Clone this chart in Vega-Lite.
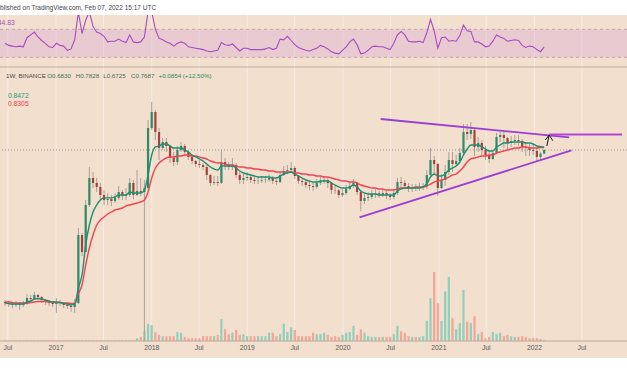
{
"$schema":"https://vega.github.io/schema/vega-lite/v6.json",
"width":627,"height":343,
"autosize":{"type":"none"},
"padding":{"left":0,"right":0,"top":15,"bottom":18},
"background":"#ffffff",
"config":{"view":{"fill":"#f2dfce","stroke":null},"font":"Liberation Sans"},
"datasets":{
"w":[
{"t":"2016-06-20","o":0.00518,"h":0.00553,"l":0.00454,"c":0.00501,"v":1,"g":0.00501,"r":0.00518,"s":50},
{"t":"2016-07-04","o":0.00501,"h":0.00535,"l":0.0044,"c":0.00485,"v":1,"g":0.00493,"r":0.00518,"s":47},
{"t":"2016-07-18","o":0.00485,"h":0.00518,"l":0.00425,"c":0.00469,"v":1,"g":0.00485,"r":0.0051,"s":46},
{"t":"2016-08-01","o":0.00469,"h":0.00535,"l":0.0044,"c":0.00485,"v":1,"g":0.00485,"r":0.00501,"s":45},
{"t":"2016-08-15","o":0.00485,"h":0.00518,"l":0.00398,"c":0.00469,"v":1,"g":0.00485,"r":0.00501,"s":46},
{"t":"2016-08-29","o":0.00469,"h":0.00535,"l":0.0044,"c":0.00485,"v":1,"g":0.00485,"r":0.00501,"s":45},
{"t":"2016-09-12","o":0.00485,"h":0.00674,"l":0.00469,"c":0.00591,"v":1,"g":0.00518,"r":0.00501,"s":58},
{"t":"2016-09-26","o":0.00591,"h":0.00652,"l":0.00518,"c":0.00572,"v":1,"g":0.00535,"r":0.0051,"s":62},
{"t":"2016-10-10","o":0.00572,"h":0.0072,"l":0.00553,"c":0.00652,"v":1,"g":0.00572,"r":0.00518,"s":66},
{"t":"2016-10-24","o":0.00652,"h":0.00674,"l":0.00553,"c":0.00611,"v":1,"g":0.00582,"r":0.00527,"s":59},
{"t":"2016-11-07","o":0.00611,"h":0.00631,"l":0.00501,"c":0.00553,"v":1,"g":0.00572,"r":0.00527,"s":54},
{"t":"2016-11-21","o":0.00553,"h":0.00572,"l":0.00469,"c":0.00518,"v":1,"g":0.00553,"r":0.00527,"s":50},
{"t":"2016-12-05","o":0.00518,"h":0.00553,"l":0.00454,"c":0.00501,"v":1,"g":0.00535,"r":0.00518,"s":45},
{"t":"2016-12-19","o":0.00501,"h":0.00535,"l":0.0044,"c":0.00485,"v":1,"g":0.00518,"r":0.00518,"s":44},
{"t":"2017-01-02","o":0.00485,"h":0.00591,"l":0.00361,"c":0.00518,"v":1,"g":0.00518,"r":0.0051,"s":50},
{"t":"2017-01-16","o":0.00518,"h":0.00553,"l":0.00454,"c":0.00501,"v":1,"g":0.0051,"r":0.0051,"s":47},
{"t":"2017-01-30","o":0.00501,"h":0.00518,"l":0.00425,"c":0.00469,"v":1,"g":0.00493,"r":0.00501,"s":46},
{"t":"2017-02-13","o":0.00469,"h":0.00501,"l":0.00412,"c":0.00454,"v":1,"g":0.00485,"r":0.00501,"s":40},
{"t":"2017-02-27","o":0.00454,"h":0.00501,"l":0.00373,"c":0.0044,"v":1,"g":0.00469,"r":0.00493,"s":42},
{"t":"2017-03-13","o":0.0044,"h":0.00572,"l":0.00361,"c":0.00501,"v":1,"g":0.00485,"r":0.00493,"s":55},
{"t":"2017-03-27","o":0.00501,"h":0.0591,"l":0.00485,"c":0.0469,"v":1,"g":0.00821,"r":0.00674,"s":95},
{"t":"2017-04-10","o":0.0469,"h":0.0501,"l":0.0235,"c":0.0268,"v":1,"g":0.0126,"r":0.00906,"s":64},
{"t":"2017-04-24","o":0.0268,"h":0.148,"l":0.0268,"c":0.1259,"v":1,"g":0.0338,"r":0.0175,"s":83},
{"t":"2017-05-08","o":0.1259,"h":0.44,"l":0.1179,"c":0.306,"v":1,"g":0.0652,"r":0.0306,"s":95},
{"t":"2017-05-22","o":0.306,"h":0.373,"l":0.22,"c":0.26,"v":1,"g":0.1,"r":0.0469,"s":74},
{"t":"2017-06-05","o":0.26,"h":0.306,"l":0.193,"c":0.228,"v":1,"g":0.1259,"r":0.0652,"s":66},
{"t":"2017-06-19","o":0.228,"h":0.26,"l":0.148,"c":0.175,"v":1,"g":0.148,"r":0.0769,"s":64},
{"t":"2017-07-03","o":0.175,"h":0.206,"l":0.1259,"c":0.148,"v":1,"g":0.159,"r":0.0849,"s":60},
{"t":"2017-07-17","o":0.148,"h":0.187,"l":0.1259,"c":0.153,"v":1,"g":0.159,"r":0.0937,"s":52},
{"t":"2017-07-31","o":0.153,"h":0.175,"l":0.1218,"c":0.1436,"v":1,"g":0.159,"r":0.1,"s":53},
{"t":"2017-08-14","o":0.1436,"h":0.187,"l":0.1345,"c":0.159,"v":1,"g":0.164,"r":0.1068,"s":53},
{"t":"2017-08-28","o":0.159,"h":0.235,"l":0.148,"c":0.193,"v":1,"g":0.175,"r":0.1104,"s":56},
{"t":"2017-09-11","o":0.193,"h":0.206,"l":0.148,"c":0.169,"v":1,"g":0.175,"r":0.1141,"s":53},
{"t":"2017-09-25","o":0.169,"h":0.22,"l":0.148,"c":0.175,"v":1,"g":0.175,"r":0.1218,"s":51},
{"t":"2017-10-09","o":0.175,"h":0.306,"l":0.164,"c":0.26,"v":1,"g":0.193,"r":0.1259,"s":62},
{"t":"2017-10-23","o":0.26,"h":0.287,"l":0.153,"c":0.175,"v":1,"g":0.187,"r":0.1301,"s":52},
{"t":"2017-11-06","o":0.175,"h":0.398,"l":0.169,"c":0.2,"v":4,"g":0.187,"r":0.1345,"s":51},
{"t":"2017-11-20","o":0.2,"h":0.306,"l":0.169,"c":0.193,"v":6,"g":0.187,"r":0.139,"s":52},
{"t":"2017-12-04","o":0.193,"h":0.287,"l":0.00145,"c":0.22,"v":14,"g":0.206,"r":0.148,"s":59},
{"t":"2017-12-18","o":0.22,"h":2.062,"l":0.206,"c":1.585,"v":25,"g":0.338,"r":0.193,"s":95},
{"t":"2018-01-01","o":1.585,"h":3.728,"l":1.484,"c":2.683,"v":23,"g":0.652,"r":0.306,"s":95},
{"t":"2018-01-15","o":2.683,"h":2.865,"l":1.068,"c":1.39,"v":13,"g":0.849,"r":0.425,"s":70},
{"t":"2018-01-29","o":1.39,"h":1.585,"l":0.553,"c":0.821,"v":9,"g":0.877,"r":0.501,"s":57},
{"t":"2018-02-12","o":0.821,"h":1.141,"l":0.769,"c":1.0,"v":7,"g":0.937,"r":0.553,"s":55},
{"t":"2018-02-26","o":1.0,"h":1.141,"l":0.72,"c":0.877,"v":7,"g":0.937,"r":0.591,"s":52},
{"t":"2018-03-12","o":0.877,"h":0.906,"l":0.501,"c":0.591,"v":7,"g":0.877,"r":0.611,"s":50},
{"t":"2018-03-26","o":0.591,"h":0.72,"l":0.454,"c":0.518,"v":7,"g":0.821,"r":0.611,"s":46},
{"t":"2018-04-09","o":0.518,"h":0.877,"l":0.469,"c":0.769,"v":13,"g":0.821,"r":0.631,"s":50},
{"t":"2018-04-23","o":0.769,"h":1.0,"l":0.72,"c":0.877,"v":12,"g":0.821,"r":0.631,"s":52},
{"t":"2018-05-07","o":0.877,"h":0.937,"l":0.631,"c":0.72,"v":6,"g":0.769,"r":0.652,"s":50},
{"t":"2018-05-21","o":0.72,"h":0.769,"l":0.553,"c":0.611,"v":4,"g":0.72,"r":0.652,"s":45},
{"t":"2018-06-04","o":0.611,"h":0.652,"l":0.485,"c":0.535,"v":4,"g":0.652,"r":0.631,"s":44},
{"t":"2018-06-18","o":0.535,"h":0.553,"l":0.44,"c":0.485,"v":4,"g":0.611,"r":0.631,"s":43},
{"t":"2018-07-02","o":0.485,"h":0.553,"l":0.425,"c":0.469,"v":4,"g":0.572,"r":0.611,"s":42},
{"t":"2018-07-16","o":0.469,"h":0.501,"l":0.398,"c":0.44,"v":7,"g":0.535,"r":0.591,"s":41},
{"t":"2018-07-30","o":0.44,"h":0.469,"l":0.287,"c":0.338,"v":7,"g":0.485,"r":0.572,"s":39},
{"t":"2018-08-13","o":0.338,"h":0.349,"l":0.235,"c":0.26,"v":7,"g":0.44,"r":0.535,"s":38},
{"t":"2018-08-27","o":0.26,"h":0.327,"l":0.243,"c":0.268,"v":7,"g":0.412,"r":0.518,"s":39},
{"t":"2018-09-10","o":0.268,"h":0.327,"l":0.235,"c":0.26,"v":9,"g":0.398,"r":0.501,"s":40},
{"t":"2018-09-24","o":0.26,"h":0.769,"l":0.251,"c":0.518,"v":32,"g":0.454,"r":0.501,"s":51},
{"t":"2018-10-08","o":0.518,"h":0.591,"l":0.398,"c":0.469,"v":17,"g":0.454,"r":0.485,"s":48},
{"t":"2018-10-22","o":0.469,"h":0.518,"l":0.398,"c":0.44,"v":10,"g":0.454,"r":0.469,"s":47},
{"t":"2018-11-05","o":0.44,"h":0.591,"l":0.398,"c":0.469,"v":12,"g":0.454,"r":0.469,"s":49},
{"t":"2018-11-19","o":0.469,"h":0.501,"l":0.306,"c":0.338,"v":16,"g":0.425,"r":0.454,"s":44},
{"t":"2018-12-03","o":0.338,"h":0.373,"l":0.251,"c":0.287,"v":9,"g":0.385,"r":0.44,"s":39},
{"t":"2018-12-17","o":0.287,"h":0.349,"l":0.251,"c":0.306,"v":10,"g":0.361,"r":0.44,"s":43},
{"t":"2018-12-31","o":0.306,"h":0.373,"l":0.277,"c":0.316,"v":7,"g":0.349,"r":0.425,"s":43},
{"t":"2019-01-14","o":0.316,"h":0.338,"l":0.26,"c":0.287,"v":7,"g":0.338,"r":0.425,"s":41},
{"t":"2019-01-28","o":0.287,"h":0.316,"l":0.251,"c":0.277,"v":7,"g":0.327,"r":0.412,"s":41},
{"t":"2019-02-11","o":0.277,"h":0.316,"l":0.251,"c":0.28,"v":7,"g":0.316,"r":0.412,"s":41},
{"t":"2019-02-25","o":0.28,"h":0.327,"l":0.26,"c":0.287,"v":7,"g":0.316,"r":0.398,"s":41},
{"t":"2019-03-11","o":0.287,"h":0.327,"l":0.26,"c":0.29,"v":7,"g":0.316,"r":0.398,"s":42},
{"t":"2019-03-25","o":0.29,"h":0.349,"l":0.268,"c":0.306,"v":12,"g":0.316,"r":0.385,"s":44},
{"t":"2019-04-08","o":0.306,"h":0.327,"l":0.251,"c":0.277,"v":12,"g":0.306,"r":0.385,"s":41},
{"t":"2019-04-22","o":0.277,"h":0.316,"l":0.243,"c":0.268,"v":7,"g":0.306,"r":0.373,"s":43},
{"t":"2019-05-06","o":0.268,"h":0.373,"l":0.26,"c":0.338,"v":10,"g":0.327,"r":0.373,"s":56},
{"t":"2019-05-20","o":0.338,"h":0.454,"l":0.327,"c":0.385,"v":25,"g":0.349,"r":0.373,"s":55},
{"t":"2019-06-03","o":0.385,"h":0.469,"l":0.349,"c":0.398,"v":13,"g":0.361,"r":0.373,"s":60},
{"t":"2019-06-17","o":0.398,"h":0.518,"l":0.361,"c":0.425,"v":20,"g":0.373,"r":0.373,"s":54},
{"t":"2019-07-01","o":0.425,"h":0.454,"l":0.296,"c":0.327,"v":16,"g":0.349,"r":0.361,"s":48},
{"t":"2019-07-15","o":0.327,"h":0.338,"l":0.251,"c":0.277,"v":7,"g":0.327,"r":0.361,"s":44},
{"t":"2019-07-29","o":0.277,"h":0.306,"l":0.235,"c":0.268,"v":7,"g":0.306,"r":0.349,"s":42},
{"t":"2019-08-12","o":0.268,"h":0.287,"l":0.22,"c":0.243,"v":7,"g":0.287,"r":0.349,"s":40},
{"t":"2019-08-26","o":0.243,"h":0.277,"l":0.206,"c":0.235,"v":7,"g":0.277,"r":0.338,"s":39},
{"t":"2019-09-09","o":0.235,"h":0.268,"l":0.2,"c":0.228,"v":12,"g":0.268,"r":0.338,"s":41},
{"t":"2019-09-23","o":0.228,"h":0.296,"l":0.213,"c":0.26,"v":10,"g":0.268,"r":0.327,"s":43},
{"t":"2019-10-07","o":0.26,"h":0.316,"l":0.243,"c":0.277,"v":10,"g":0.277,"r":0.327,"s":47},
{"t":"2019-10-21","o":0.277,"h":0.327,"l":0.251,"c":0.287,"v":12,"g":0.277,"r":0.316,"s":45},
{"t":"2019-11-04","o":0.287,"h":0.306,"l":0.22,"c":0.26,"v":9,"g":0.277,"r":0.316,"s":42},
{"t":"2019-11-18","o":0.26,"h":0.268,"l":0.181,"c":0.206,"v":6,"g":0.26,"r":0.306,"s":38},
{"t":"2019-12-02","o":0.206,"h":0.235,"l":0.181,"c":0.204,"v":7,"g":0.243,"r":0.296,"s":36},
{"t":"2019-12-16","o":0.204,"h":0.213,"l":0.159,"c":0.175,"v":6,"g":0.228,"r":0.287,"s":35},
{"t":"2019-12-30","o":0.175,"h":0.213,"l":0.164,"c":0.187,"v":9,"g":0.22,"r":0.277,"s":40},
{"t":"2020-01-13","o":0.187,"h":0.243,"l":0.175,"c":0.213,"v":12,"g":0.22,"r":0.277,"s":45},
{"t":"2020-01-27","o":0.213,"h":0.268,"l":0.206,"c":0.235,"v":13,"g":0.228,"r":0.268,"s":52},
{"t":"2020-02-10","o":0.235,"h":0.296,"l":0.22,"c":0.26,"v":22,"g":0.243,"r":0.268,"s":56},
{"t":"2020-02-24","o":0.26,"h":0.268,"l":0.175,"c":0.193,"v":9,"g":0.228,"r":0.26,"s":48},
{"t":"2020-03-09","o":0.193,"h":0.206,"l":0.1034,"c":0.1436,"v":17,"g":0.2,"r":0.243,"s":35},
{"t":"2020-03-23","o":0.1436,"h":0.187,"l":0.1301,"c":0.159,"v":12,"g":0.187,"r":0.235,"s":36},
{"t":"2020-04-06","o":0.159,"h":0.193,"l":0.1436,"c":0.164,"v":7,"g":0.181,"r":0.228,"s":40},
{"t":"2020-04-20","o":0.164,"h":0.206,"l":0.153,"c":0.181,"v":6,"g":0.181,"r":0.22,"s":45},
{"t":"2020-05-04","o":0.181,"h":0.213,"l":0.159,"c":0.185,"v":6,"g":0.181,"r":0.22,"s":46},
{"t":"2020-05-18","o":0.185,"h":0.2,"l":0.159,"c":0.175,"v":6,"g":0.175,"r":0.213,"s":45},
{"t":"2020-06-01","o":0.175,"h":0.213,"l":0.164,"c":0.187,"v":6,"g":0.175,"r":0.213,"s":45},
{"t":"2020-06-15","o":0.187,"h":0.2,"l":0.153,"c":0.175,"v":6,"g":0.175,"r":0.206,"s":43},
{"t":"2020-06-29","o":0.175,"h":0.187,"l":0.148,"c":0.164,"v":6,"g":0.175,"r":0.206,"s":41},
{"t":"2020-07-13","o":0.164,"h":0.213,"l":0.153,"c":0.187,"v":10,"g":0.175,"r":0.206,"s":50},
{"t":"2020-07-27","o":0.187,"h":0.306,"l":0.175,"c":0.268,"v":22,"g":0.2,"r":0.213,"s":62},
{"t":"2020-08-10","o":0.268,"h":0.316,"l":0.228,"c":0.26,"v":14,"g":0.213,"r":0.22,"s":67},
{"t":"2020-08-24","o":0.26,"h":0.287,"l":0.213,"c":0.235,"v":12,"g":0.22,"r":0.22,"s":62},
{"t":"2020-09-07","o":0.235,"h":0.26,"l":0.193,"c":0.22,"v":7,"g":0.22,"r":0.22,"s":53},
{"t":"2020-09-21","o":0.22,"h":0.251,"l":0.193,"c":0.224,"v":6,"g":0.22,"r":0.22,"s":52},
{"t":"2020-10-05","o":0.224,"h":0.251,"l":0.2,"c":0.22,"v":6,"g":0.22,"r":0.228,"s":52},
{"t":"2020-10-19","o":0.22,"h":0.26,"l":0.2,"c":0.228,"v":6,"g":0.22,"r":0.228,"s":53},
{"t":"2020-11-02","o":0.228,"h":0.26,"l":0.206,"c":0.232,"v":7,"g":0.228,"r":0.228,"s":51},
{"t":"2020-11-16","o":0.232,"h":0.398,"l":0.213,"c":0.338,"v":29,"g":0.251,"r":0.235,"s":65},
{"t":"2020-11-30","o":0.338,"h":0.821,"l":0.327,"c":0.553,"v":62,"g":0.316,"r":0.251,"s":84},
{"t":"2020-12-14","o":0.553,"h":0.631,"l":0.349,"c":0.485,"v":100,"g":0.349,"r":0.268,"s":68},
{"t":"2020-12-28","o":0.485,"h":0.501,"l":0.169,"c":0.22,"v":55,"g":0.327,"r":0.277,"s":43},
{"t":"2021-01-11","o":0.22,"h":0.349,"l":0.213,"c":0.287,"v":29,"g":0.327,"r":0.287,"s":58},
{"t":"2021-01-25","o":0.287,"h":0.469,"l":0.235,"c":0.373,"v":72,"g":0.349,"r":0.296,"s":59},
{"t":"2021-02-08","o":0.373,"h":0.72,"l":0.338,"c":0.553,"v":93,"g":0.398,"r":0.316,"s":53},
{"t":"2021-02-22","o":0.553,"h":0.72,"l":0.373,"c":0.485,"v":33,"g":0.425,"r":0.338,"s":54},
{"t":"2021-03-08","o":0.485,"h":0.652,"l":0.454,"c":0.535,"v":17,"g":0.454,"r":0.349,"s":53},
{"t":"2021-03-22","o":0.535,"h":0.821,"l":0.501,"c":0.697,"v":26,"g":0.518,"r":0.385,"s":61},
{"t":"2021-04-05","o":0.697,"h":1.808,"l":0.652,"c":1.39,"v":74,"g":0.652,"r":0.44,"s":76},
{"t":"2021-04-19","o":1.39,"h":1.808,"l":1.068,"c":1.301,"v":28,"g":0.794,"r":0.518,"s":68},
{"t":"2021-05-03","o":1.301,"h":1.931,"l":1.104,"c":1.484,"v":26,"g":0.906,"r":0.572,"s":67},
{"t":"2021-05-17","o":1.484,"h":1.585,"l":0.631,"c":0.849,"v":36,"g":0.906,"r":0.591,"s":52},
{"t":"2021-05-31","o":0.849,"h":1.179,"l":0.72,"c":0.968,"v":10,"g":0.906,"r":0.611,"s":52},
{"t":"2021-06-14","o":0.968,"h":1.068,"l":0.652,"c":0.769,"v":13,"g":0.849,"r":0.631,"s":49},
{"t":"2021-06-28","o":0.769,"h":0.877,"l":0.553,"c":0.652,"v":4,"g":0.794,"r":0.631,"s":45},
{"t":"2021-07-12","o":0.652,"h":0.769,"l":0.501,"c":0.572,"v":6,"g":0.744,"r":0.652,"s":46},
{"t":"2021-07-26","o":0.572,"h":0.769,"l":0.553,"c":0.697,"v":13,"g":0.744,"r":0.652,"s":53},
{"t":"2021-08-09","o":0.697,"h":1.345,"l":0.674,"c":1.179,"v":10,"g":0.849,"r":0.697,"s":62},
{"t":"2021-08-23","o":1.179,"h":1.39,"l":1.0,"c":1.259,"v":12,"g":0.906,"r":0.72,"s":59},
{"t":"2021-09-06","o":1.259,"h":1.39,"l":0.821,"c":1.141,"v":7,"g":0.968,"r":0.744,"s":57},
{"t":"2021-09-20","o":1.141,"h":1.179,"l":0.794,"c":0.968,"v":9,"g":0.968,"r":0.769,"s":53},
{"t":"2021-10-04","o":0.968,"h":1.218,"l":0.849,"c":1.034,"v":7,"g":1.0,"r":0.794,"s":54},
{"t":"2021-10-18","o":1.034,"h":1.259,"l":0.906,"c":1.068,"v":6,"g":1.0,"r":0.821,"s":55},
{"t":"2021-11-01","o":1.068,"h":1.259,"l":0.877,"c":1.034,"v":6,"g":1.0,"r":0.821,"s":54},
{"t":"2021-11-15","o":1.034,"h":1.104,"l":0.72,"c":0.849,"v":7,"g":1.0,"r":0.849,"s":47},
{"t":"2021-11-29","o":0.849,"h":1.0,"l":0.631,"c":0.83,"v":6,"g":0.968,"r":0.849,"s":44},
{"t":"2021-12-13","o":0.83,"h":0.937,"l":0.631,"c":0.769,"v":4,"g":0.968,"r":0.821,"s":46},
{"t":"2021-12-27","o":0.769,"h":0.906,"l":0.652,"c":0.744,"v":4,"g":0.937,"r":0.821,"s":45},
{"t":"2022-01-10","o":0.744,"h":0.821,"l":0.535,"c":0.611,"v":4,"g":0.877,"r":0.821,"s":41},
{"t":"2022-01-24","o":0.611,"h":0.72,"l":0.553,"c":0.683,"v":3,"g":0.86,"r":0.835,"s":38},
{"t":"2022-02-07","o":0.683,"h":0.7828,"l":0.6725,"c":0.7687,"v":1.5,"g":0.8472,"r":0.8305,"s":45}
],
"tl":[
{"id":"u","t":"2020-05-24","p":2.132},{"id":"u","t":"2022-05-13","p":1.167},
{"id":"d","t":"2020-03-04","p":0.0841},{"id":"d","t":"2022-05-22","p":0.761},
{"id":"h","t":"2022-02-26","p":1.28},{"id":"h","t":"2022-12-01","p":1.28}
],
"ar":[
{"id":"a","n":1,"t":"2022-02-11","p":1.068},{"id":"a","n":2,"t":"2022-02-26","p":1.259},{"id":"a","n":3,"t":"2022-03-12","p":1.044},
{"id":"b","n":1,"t":"2022-02-26","p":1.259},{"id":"b","n":2,"t":"2022-02-17","p":0.877}
],
"rl":[{"v":70},{"v":30}],
"gd":[
{"t":"2016-07-01","lab":"Jul"},{"t":"2017-01-01","lab":"2017"},{"t":"2017-07-01","lab":"Jul"},{"t":"2018-01-01","lab":"2018"},
{"t":"2018-07-01","lab":"Jul"},{"t":"2019-01-01","lab":"2019"},{"t":"2019-07-01","lab":"Jul"},{"t":"2020-01-01","lab":"2020"},
{"t":"2020-07-01","lab":"Jul"},{"t":"2021-01-01","lab":"2021"},{"t":"2021-07-01","lab":"Jul"},{"t":"2022-01-01","lab":"2022"},
{"t":"2022-07-01","lab":"Jul"}
]
},
"layer":[
{"data":{"name":"gd"},"mark":{"type":"rule","color":"#f8ede3","strokeWidth":1},
 "encoding":{"x":{"field":"t","type":"temporal","scale":{"domain":[{"year":2016,"month":6,"date":20,"utc":true},{"year":2022,"month":12,"date":1,"utc":true}]},"axis":null},
  "y":{"datum":472.5,"type":"quantitative","scale":{"domain":[-24.6,472.5],"nice":false,"zero":false},"axis":null},"y2":{"datum":0}}},
{"data":{"values":[{}]},"mark":{"type":"rect","color":"#d59ad8","opacity":0.3},
 "encoding":{"y":{"datum":70,"type":"quantitative","scale":{"domain":[-399.6,90.43],"nice":false,"zero":false},"axis":null},"y2":{"datum":30}}},
{"data":{"name":"rl"},"mark":{"type":"rule","color":"#c4a3b3","strokeDash":[3,3],"strokeWidth":1},
 "encoding":{"y":{"field":"v","type":"quantitative","scale":{"domain":[-399.6,90.43],"nice":false,"zero":false},"axis":null}}},
{"data":{"values":[{}]},"mark":{"type":"rule","color":"#c2ae9e","strokeWidth":1},
 "encoding":{"y":{"datum":16.1,"type":"quantitative","scale":{"domain":[-399.6,90.43],"nice":false,"zero":false},"axis":null}}},
{"data":{"name":"w"},"mark":{"type":"line","color":"#a64cc3","strokeWidth":1.1,"clip":true},
 "encoding":{"x":{"field":"t","type":"temporal","scale":{"domain":[{"year":2016,"month":6,"date":20,"utc":true},{"year":2022,"month":12,"date":1,"utc":true}]},"axis":null},
  "y":{"field":"s","type":"quantitative","scale":{"domain":[-399.6,90.43],"nice":false,"zero":false},"axis":null}}},
{"data":{"values":[{}]},"mark":{"type":"text","text":"44.83","align":"right","baseline":"middle","fontSize":6.8,"font":"Liberation Sans","color":"#a64cc3"},
 "encoding":{"x":{"datum":{"year":2016,"month":7,"date":27,"utc":true},"type":"temporal","scale":{"domain":[{"year":2016,"month":6,"date":20,"utc":true},{"year":2022,"month":12,"date":1,"utc":true}]},"axis":null},
  "y":{"datum":79.4,"type":"quantitative","scale":{"domain":[-399.6,90.43],"nice":false,"zero":false},"axis":null}}},
{"data":{"values":[{}]},"mark":{"type":"text","text":"Published on TradingView.com, Feb 07, 2022 15:17 UTC","align":"left","baseline":"middle","fontSize":6.5,"font":"Liberation Sans","color":"#444444"},
 "encoding":{"x":{"datum":{"year":2016,"month":5,"date":2,"utc":true},"type":"temporal","scale":{"domain":[{"year":2016,"month":6,"date":20,"utc":true},{"year":2022,"month":12,"date":1,"utc":true}]},"axis":null},
  "y":{"datum":100.4,"type":"quantitative","scale":{"domain":[-399.6,90.43],"nice":false,"zero":false},"axis":null}}},
{"data":{"name":"w"},"mark":{"type":"bar","width":2.2},
 "encoding":{"x":{"field":"t","type":"temporal","scale":{"domain":[{"year":2016,"month":6,"date":20,"utc":true},{"year":2022,"month":12,"date":1,"utc":true}]},"axis":null},
  "y":{"field":"v","type":"quantitative","scale":{"domain":[-24.6,472.5],"nice":false,"zero":false},"axis":null},
  "color":{"condition":{"test":"datum.c >= datum.o","value":"#8fd0bb"},"value":"#f4a595"}}},
{"data":{"values":[{}]},"mark":{"type":"rule","color":"#bca999","strokeWidth":1},
 "encoding":{"y":{"datum":0,"type":"quantitative","scale":{"domain":[-24.6,472.5],"nice":false,"zero":false},"axis":null}}},
{"data":{"name":"gd"},"mark":{"type":"text","align":"center","baseline":"middle","fontSize":6.8,"font":"Liberation Sans","color":"#5a5a5a"},
 "encoding":{"x":{"field":"t","type":"temporal","scale":{"domain":[{"year":2016,"month":6,"date":20,"utc":true},{"year":2022,"month":12,"date":1,"utc":true}]},"axis":null},
  "y":{"datum":-10.1,"type":"quantitative","scale":{"domain":[-24.6,472.5],"nice":false,"zero":false},"axis":null},
  "text":{"field":"lab"}}},
{"data":{"values":[{}]},"mark":{"type":"rule","color":"#9d978f","strokeDash":[1,2],"strokeWidth":1},
 "encoding":{"y":{"datum":0.7687,"type":"quantitative","scale":{"type":"log","domain":[0.000821,65.22],"nice":false},"axis":null}}},
{"data":{"name":"w"},"mark":{"type":"rule","color":"#a8a09a","strokeWidth":1},
 "encoding":{"x":{"field":"t","type":"temporal","scale":{"domain":[{"year":2016,"month":6,"date":20,"utc":true},{"year":2022,"month":12,"date":1,"utc":true}]},"axis":null},
  "y":{"field":"l","type":"quantitative","scale":{"type":"log","domain":[0.000821,65.22],"nice":false},"axis":null},"y2":{"field":"h"}}},
{"data":{"name":"w"},"mark":{"type":"bar","width":2.2},
 "encoding":{"x":{"field":"t","type":"temporal","scale":{"domain":[{"year":2016,"month":6,"date":20,"utc":true},{"year":2022,"month":12,"date":1,"utc":true}]},"axis":null},
  "y":{"field":"o","type":"quantitative","scale":{"type":"log","domain":[0.000821,65.22],"nice":false},"axis":null},"y2":{"field":"c"},
  "color":{"condition":{"test":"datum.c >= datum.o","value":"#2e8b68"},"value":"#a3423a"}}},
{"data":{"name":"w"},"mark":{"type":"line","color":"#ef4450","strokeWidth":1.4,"interpolate":"monotone"},
 "encoding":{"x":{"field":"t","type":"temporal","scale":{"domain":[{"year":2016,"month":6,"date":20,"utc":true},{"year":2022,"month":12,"date":1,"utc":true}]},"axis":null},
  "y":{"field":"r","type":"quantitative","scale":{"type":"log","domain":[0.000821,65.22],"nice":false},"axis":null}}},
{"data":{"name":"w"},"mark":{"type":"line","color":"#1f8f73","strokeWidth":1.4,"interpolate":"monotone"},
 "encoding":{"x":{"field":"t","type":"temporal","scale":{"domain":[{"year":2016,"month":6,"date":20,"utc":true},{"year":2022,"month":12,"date":1,"utc":true}]},"axis":null},
  "y":{"field":"g","type":"quantitative","scale":{"type":"log","domain":[0.000821,65.22],"nice":false},"axis":null}}},
{"data":{"name":"tl"},"mark":{"type":"line","strokeWidth":1.8},
 "encoding":{"x":{"field":"t","type":"temporal","scale":{"domain":[{"year":2016,"month":6,"date":20,"utc":true},{"year":2022,"month":12,"date":1,"utc":true}]},"axis":null},
  "y":{"field":"p","type":"quantitative","scale":{"type":"log","domain":[0.000821,65.22],"nice":false},"axis":null},
  "detail":{"field":"id"},
  "color":{"field":"id","type":"nominal","scale":{"domain":["u","d","h"],"range":["#9a3fd1","#9a3fd1","#b346d9"]},"legend":null}}},
{"data":{"name":"ar"},"mark":{"type":"line","color":"#111111","strokeWidth":1},
 "encoding":{"x":{"field":"t","type":"temporal","scale":{"domain":[{"year":2016,"month":6,"date":20,"utc":true},{"year":2022,"month":12,"date":1,"utc":true}]},"axis":null},
  "y":{"field":"p","type":"quantitative","scale":{"type":"log","domain":[0.000821,65.22],"nice":false},"axis":null},
  "detail":{"field":"id"},"order":{"field":"n"}}},
{"data":{"values":[{}]},"mark":{"type":"text","text":"1W, BINANCE","align":"left","baseline":"middle","fontSize":6.2,"font":"Liberation Sans","color":"#4a4a4a"},
 "encoding":{"x":{"datum":{"year":2016,"month":6,"date":24,"utc":true},"type":"temporal","scale":{"domain":[{"year":2016,"month":6,"date":20,"utc":true},{"year":2022,"month":12,"date":1,"utc":true}]},"axis":null},
  "y":{"datum":8.766,"type":"quantitative","scale":{"type":"log","domain":[0.000821,65.22],"nice":false},"axis":null}}},
{"data":{"values":[{}]},"mark":{"type":"text","text":"O0.6830","align":"left","baseline":"middle","fontSize":6.2,"font":"Liberation Sans","color":"#3f6f58"},
 "encoding":{"x":{"datum":{"year":2016,"month":11,"date":28,"utc":true},"type":"temporal","scale":{"domain":[{"year":2016,"month":6,"date":20,"utc":true},{"year":2022,"month":12,"date":1,"utc":true}]},"axis":null},
  "y":{"datum":8.766,"type":"quantitative","scale":{"type":"log","domain":[0.000821,65.22],"nice":false},"axis":null}}},
{"data":{"values":[{}]},"mark":{"type":"text","text":"H0.7828","align":"left","baseline":"middle","fontSize":6.2,"font":"Liberation Sans","color":"#3f6f58"},
 "encoding":{"x":{"datum":{"year":2017,"month":3,"date":17,"utc":true},"type":"temporal","scale":{"domain":[{"year":2016,"month":6,"date":20,"utc":true},{"year":2022,"month":12,"date":1,"utc":true}]},"axis":null},
  "y":{"datum":8.766,"type":"quantitative","scale":{"type":"log","domain":[0.000821,65.22],"nice":false},"axis":null}}},
{"data":{"values":[{}]},"mark":{"type":"text","text":"L0.6725","align":"left","baseline":"middle","fontSize":6.2,"font":"Liberation Sans","color":"#3f6f58"},
 "encoding":{"x":{"datum":{"year":2017,"month":6,"date":30,"utc":true},"type":"temporal","scale":{"domain":[{"year":2016,"month":6,"date":20,"utc":true},{"year":2022,"month":12,"date":1,"utc":true}]},"axis":null},
  "y":{"datum":8.766,"type":"quantitative","scale":{"type":"log","domain":[0.000821,65.22],"nice":false},"axis":null}}},
{"data":{"values":[{}]},"mark":{"type":"text","text":"C0.7687","align":"left","baseline":"middle","fontSize":6.2,"font":"Liberation Sans","color":"#3f6f58"},
 "encoding":{"x":{"datum":{"year":2017,"month":10,"date":14,"utc":true},"type":"temporal","scale":{"domain":[{"year":2016,"month":6,"date":20,"utc":true},{"year":2022,"month":12,"date":1,"utc":true}]},"axis":null},
  "y":{"datum":8.766,"type":"quantitative","scale":{"type":"log","domain":[0.000821,65.22],"nice":false},"axis":null}}},
{"data":{"values":[{}]},"mark":{"type":"text","text":"+0.0854 (+12.50%)","align":"left","baseline":"middle","fontSize":6.2,"font":"Liberation Sans","color":"#2b8a62"},
 "encoding":{"x":{"datum":{"year":2018,"month":1,"date":27,"utc":true},"type":"temporal","scale":{"domain":[{"year":2016,"month":6,"date":20,"utc":true},{"year":2022,"month":12,"date":1,"utc":true}]},"axis":null},
  "y":{"datum":8.766,"type":"quantitative","scale":{"type":"log","domain":[0.000821,65.22],"nice":false},"axis":null}}},
{"data":{"values":[{}]},"mark":{"type":"text","text":"0.8472","align":"left","baseline":"middle","fontSize":6.8,"font":"Liberation Sans","color":"#1e9a78"},
 "encoding":{"x":{"datum":{"year":2016,"month":7,"date":1,"utc":true},"type":"temporal","scale":{"domain":[{"year":2016,"month":6,"date":20,"utc":true},{"year":2022,"month":12,"date":1,"utc":true}]},"axis":null},
  "y":{"datum":4.615,"type":"quantitative","scale":{"type":"log","domain":[0.000821,65.22],"nice":false},"axis":null}}},
{"data":{"values":[{}]},"mark":{"type":"text","text":"0.8305","align":"left","baseline":"middle","fontSize":6.8,"font":"Liberation Sans","color":"#f0404c"},
 "encoding":{"x":{"datum":{"year":2016,"month":7,"date":1,"utc":true},"type":"temporal","scale":{"domain":[{"year":2016,"month":6,"date":20,"utc":true},{"year":2022,"month":12,"date":1,"utc":true}]},"axis":null},
  "y":{"datum":3.49,"type":"quantitative","scale":{"type":"log","domain":[0.000821,65.22],"nice":false},"axis":null}}}
],
"resolve":{"scale":{"y":"independent"}}
}
